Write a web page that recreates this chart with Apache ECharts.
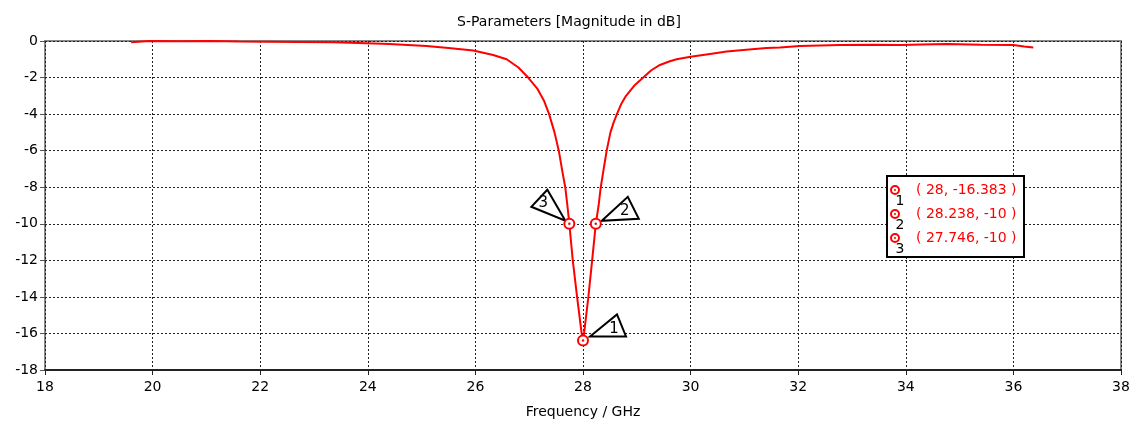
<!DOCTYPE html>
<html>
<head>
<meta charset="utf-8">
<script src="https://cdn.jsdelivr.net/npm/echarts@6/dist/echarts.min.js"></script>
<style>
  html, body { margin: 0; padding: 0; background: #fff; }
  #main { width: 1138px; height: 426px; }
</style>
</head>
<body>
<div id="main"></div>
<script>
// S11 curve (GHz, dB)
const freq = [19.6, 19.95, 20.5, 21.07, 21.6, 22.12, 22.7, 23.36, 23.98, 24.4, 25.09, 25.5, 25.96,
  26.33, 26.58, 26.8, 26.98, 27.15, 27.28, 27.37, 27.47, 27.55, 27.62, 27.67, 27.71, 27.746,
  27.81, 27.89, 27.975, 28.0, 28.02, 28.1, 28.17, 28.238, 28.29, 28.33, 28.39, 28.44, 28.51,
  28.57, 28.63, 28.71, 28.8, 28.95, 29.12, 29.27, 29.43, 29.6, 29.74, 30.0, 30.36, 30.67,
  30.98, 31.41, 31.66, 32.03, 32.78, 33.4, 33.9, 34.3, 34.76, 35.4, 36.0, 36.2, 36.37];
const s11 = [-0.07, 0.0, -0.02, 0.0, -0.03, -0.04, -0.05, -0.07, -0.12, -0.16, -0.28, -0.38, -0.52,
  -0.77, -1.0, -1.45, -2.0, -2.6, -3.3, -4.0, -5.0, -6.0, -7.2, -8.0, -9.0, -10,
  -12, -14, -16, -16.383, -16, -14, -12, -10, -9.0, -8.0, -6.9, -6.0, -5.0,
  -4.45, -4.0, -3.45, -3.0, -2.45, -2.0, -1.6, -1.31, -1.12, -1.0, -0.86, -0.71, -0.58,
  -0.49, -0.38, -0.35, -0.28, -0.22, -0.21, -0.22, -0.19, -0.16, -0.2, -0.22, -0.3, -0.35];

// markers
const markerIds = ['1', '2', '3'];
const markerFreq = [28, 28.238, 27.746];
const markerVal = [-16.383, -10, -10];

const xTicks = [18, 38, 2];   // min, max, step
const yTicks = [-18, 0, 2];

const FONT = 'Tahoma, "DejaVu Sans", Verdana, sans-serif';

let curve = freq.map((f, i) => [f, s11[i]]);
let markers = markerFreq.map((f, i) => [f, markerVal[i], markerIds[i]]);

// flag triangles next to each marker: tip, two corners, text spot (px offsets)
const flags = {
  '1': { pts: [[7, -4], [34, -26], [43, -4]], txt: [31, -11] },
  '2': { pts: [[6, -3], [32, -27], [43, -5]], txt: [29, -13] },
  '3': { pts: [[-4, -3], [-22, -34], [-38, -17]], txt: [-26, -21] }
};

function renderMarker(params, api) {
  let p = api.coord([api.value(0), api.value(1)]);
  let id = markerIds[params.dataIndex];
  let fl = flags[id];
  return {
    type: 'group',
    children: [
      {
        type: 'polygon',
        shape: { points: fl.pts.map(o => [p[0] + o[0], p[1] + o[1]]) },
        style: { fill: '#fff', stroke: '#000', lineWidth: 2 }
      },
      {
        type: 'text',
        style: { text: id, x: p[0] + fl.txt[0], y: p[1] + fl.txt[1], fill: '#000',
          font: '15px ' + FONT, align: 'center', verticalAlign: 'middle' }
      },
      { type: 'circle', shape: { cx: p[0], cy: p[1], r: 5 },
        style: { fill: '#fff', stroke: '#ff0000', lineWidth: 2 } },
      { type: 'circle', shape: { cx: p[0], cy: p[1], r: 1.2 }, style: { fill: '#ff0000' } }
    ]
  };
}

// legend box on the right
let box = [];
box.push({ type: 'rect', left: 886, top: 175, shape: { width: 137, height: 81 },
  style: { fill: '#fff', stroke: '#000', lineWidth: 2 }, z: 100 });
markerIds.forEach((id, i) => {
  let y = 190 + i * 24;
  box.push({ type: 'circle', x: 895, y: y, shape: { r: 4 },
    style: { fill: '#fff', stroke: '#ff0000', lineWidth: 2 }, z: 101 });
  box.push({ type: 'circle', x: 895, y: y, shape: { r: 1 }, style: { fill: '#ff0000' }, z: 101 });
  box.push({ type: 'text', x: 900, y: y + 11, z: 102,
    style: { text: id, fill: '#000', font: '14px ' + FONT, align: 'center', verticalAlign: 'middle' } });
  box.push({ type: 'text', x: 916, y: y, z: 102,
    style: { text: '( ' + markerFreq[i] + ', ' + markerVal[i] + ' )', fill: '#ff0000',
      font: '14px ' + FONT, verticalAlign: 'middle' } });
});

let chart = echarts.init(document.getElementById('main'));
chart.setOption({
  animation: false,
  title: {
    text: 'S-Parameters [Magnitude in dB]',
    left: 'center', top: 10,
    textStyle: { fontFamily: FONT, fontSize: 14, fontWeight: 'normal', color: '#000' }
  },
  grid: { left: 45, right: 17, top: 41, bottom: 56, show: true, borderColor: '#888', borderWidth: 2 },
  xAxis: {
    type: 'value', min: xTicks[0], max: xTicks[1], interval: xTicks[2],
    name: 'Frequency / GHz', nameLocation: 'middle', nameGap: 35,
    nameTextStyle: { fontFamily: FONT, fontSize: 14, color: '#000' },
    axisLine: { onZero: false, lineStyle: { color: '#222', width: 2 } },
    axisTick: { length: 5, lineStyle: { color: '#222' } },
    axisLabel: { fontFamily: FONT, fontSize: 14, color: '#000', margin: 10 },
    splitLine: { show: true, lineStyle: { color: '#222', type: [2, 2], width: 1 } }
  },
  yAxis: {
    type: 'value', min: yTicks[0], max: yTicks[1], interval: yTicks[2],
    axisLine: { show: false },
    axisTick: { show: true, length: 5, lineStyle: { color: '#555' } },
    axisLabel: { fontFamily: FONT, fontSize: 14, color: '#000', margin: 7 },
    splitLine: { show: true, lineStyle: { color: '#222', type: [2, 2], width: 1 } }
  },
  series: [
    {
      type: 'line', data: curve, showSymbol: false,
      lineStyle: { color: '#ff0000', width: 2 }, z: 3
    },
    {
      type: 'custom', data: markers, renderItem: renderMarker, z: 5, clip: false
    }
  ],
  graphic: box
});
</script>
</body>
</html>
